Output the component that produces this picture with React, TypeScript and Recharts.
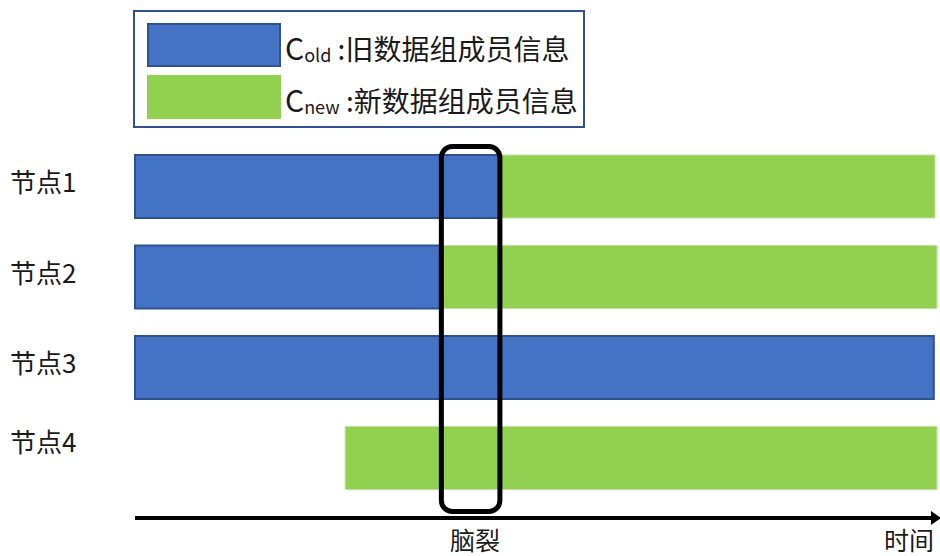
import React from "react";
import { BarChart, Bar, XAxis, YAxis, ReferenceArea, Legend } from "recharts";

// categories (nodes)
const nodes = ["节点1", "节点2", "节点3", "节点4"];
// time units (0..100) before the node's first membership info appears
const idleBefore = [0, 0, 0, 26.2];
// span holding old membership info (C_old)
const oldSpan = [45.4, 38.0, 99.6, 0];
// span holding new membership info (C_new)
const newSpan = [54.35, 62.0, 0, 73.8];
// split-brain window
const splitStart = 38.2;
const splitEnd = 45.5;
// x-axis annotations
const xTickValues = [42.4, 96.5];
const xTickLabels = ["脑裂", "时间"];
// legend
const legendKeys = ["old", "new"];
const legendSubs = ["old", "new"];
const legendTexts = [":旧数据组成员信息", ":新数据组成员信息"];

const data = nodes.map((node, i) => ({
  node,
  idle: idleBefore[i],
  old: oldSpan[i],
  new: newSpan[i],
}));

const FONT = '"Noto Sans CJK SC", "Noto Sans", sans-serif';
const BLUE = "#4472C4";
const GREEN = "#92D050";
const BORDER = "#2F528F";
const TEXT = "#1a1a1a";

const renderLegend = (props: any) => {
  const payload = props.payload || [];
  return (
    <div
      style={{
        position: "relative",
        width: 452,
        height: 118,
        boxSizing: "border-box",
        border: `2px solid ${BORDER}`,
        background: "#fff",
        fontFamily: FONT,
        color: TEXT,
      }}
    >
      {legendKeys.map((key, i) => {
        const p = payload.find((q: any) => q.dataKey === key);
        if (!p) return null;
        const top = i === 0 ? 11 : 63;
        return (
          <React.Fragment key={key}>
            <div
              style={{
                position: "absolute",
                left: 12,
                top,
                width: 134,
                height: 44,
                boxSizing: "border-box",
                background: p.color,
                border: i === 0 ? `2px solid ${BORDER}` : "none",
              }}
            />
            <div
              style={{
                position: "absolute",
                left: 150,
                top: top + 4,
                height: 40,
                lineHeight: "40px",
                whiteSpace: "nowrap",
              }}
            >
              <span style={{ fontSize: 30 }}>C</span>
              <span style={{ fontSize: 18, verticalAlign: "-2px" }}>
                {legendSubs[i]}
              </span>
              <span style={{ fontSize: 28 }}> {legendTexts[i]}</span>
            </div>
          </React.Fragment>
        );
      })}
    </div>
  );
};

const YTick = (props: any) => {
  const { y, payload, index } = props;
  // the last label sits a little higher than its bar in the reference
  const lift = index === nodes.length - 1 ? 17 : 5.5;
  return (
    <text
      x={10}
      y={y - lift}
      dominantBaseline="central"
      textAnchor="start"
      fontFamily={FONT}
      fontSize={26}
      fill={TEXT}
    >
      {payload.value}
    </text>
  );
};

const XTick = (props: any) => {
  const { x, y, payload, index } = props;
  const i = xTickValues.indexOf(payload.value);
  return (
    <text
      x={x}
      y={y + 13}
      dominantBaseline="central"
      textAnchor="middle"
      fontFamily={FONT}
      fontSize={25}
      fill={TEXT}
    >
      {xTickLabels[i >= 0 ? i : index]}
    </text>
  );
};

const SplitBox = (props: any) => {
  const { x, y, width, height } = props;
  return (
    <g>
      <defs>
        <marker
          id="axisArrow"
          markerUnits="userSpaceOnUse"
          markerWidth={12}
          markerHeight={16}
          refX={6}
          refY={7}
          orient="auto"
        >
          <path d="M0,0 L10,7 L0,14 Z" fill="#000" />
        </marker>
      </defs>
      <rect
        x={x}
        y={y + 5.5}
        width={width}
        height={height + 3}
        rx={11}
        ry={11}
        fill="none"
        stroke="#000"
        strokeWidth={5}
      />
    </g>
  );
};

export default function App() {
  return (
    <div style={{ position: "absolute", left: 0, top: 0 }}>
      <BarChart
        width={940}
        height={556}
        data={data}
        layout="vertical"
        margin={{ top: 141, right: 3, left: 0, bottom: 0 }}
      >
        <XAxis
          type="number"
          domain={[0, 100]}
          ticks={xTickValues}
          interval={0}
          tickLine={false}
          tick={<XTick />}
          height={38}
          axisLine={{
            stroke: "#000",
            strokeWidth: 4,
            markerEnd: "url(#axisArrow)",
          }}
        />
        <YAxis
          type="category"
          dataKey="node"
          width={135}
          axisLine={false}
          tickLine={false}
          tick={<YTick />}
          padding={{ top: 0, bottom: 15 }}
        />
        <Legend
          layout="horizontal"
          verticalAlign="middle"
          align="center"
          content={renderLegend}
          wrapperStyle={{ left: 133, top: 10, width: 452, height: 118, margin: 0, padding: 0 }}
        />
        <Bar dataKey="idle" stackId="t" fill="transparent" legendType="none" barSize={63} isAnimationActive={false} />
        <Bar dataKey="old" name="Cold" stackId="t" fill={BLUE} stroke={BORDER} strokeWidth={2} barSize={63} isAnimationActive={false} />
        <Bar dataKey="new" name="Cnew" stackId="t" fill={GREEN} stroke="#BFE39A" strokeWidth={1} barSize={63} isAnimationActive={false} />
        <ReferenceArea
          x1={splitStart}
          x2={splitEnd}
          ifOverflow="visible"
          shape={<SplitBox />}
          zIndex={2000}
        />
      </BarChart>
    </div>
  );
}
